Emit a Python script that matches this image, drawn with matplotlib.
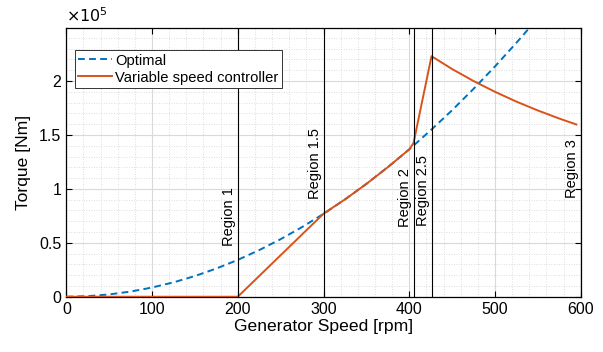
import matplotlib
matplotlib.use("Agg")
import matplotlib.pyplot as plt
from matplotlib.ticker import MultipleLocator, FuncFormatter

plt.rcParams['font.family'] = ['Liberation Sans', 'DejaVu Sans']

# optimal torque curve [rpm, Nm]
opt_speed = [0, 25, 50, 75, 100, 125, 150, 175, 200, 225, 250, 275, 300,
             325, 350, 375, 400, 425, 450, 475, 500, 525, 550]
opt_torque = [0, 530, 2140, 4800, 8540, 13340, 19200, 26150, 34160, 43230,
              53380, 64580, 76860, 90200, 104600, 120100, 136600, 154300,
              172900, 192700, 213500, 235400, 258300]

# variable speed controller
ctl_speed = [0, 200, 300, 325, 350, 375, 400, 405, 426, 450, 475, 500, 525,
             550, 575, 595]
ctl_torque = [0, 0, 77000, 90200, 104600, 120100, 136600, 142500, 223000,
              211100, 200000, 190000, 180900, 172700, 165200, 159700]

# region boundaries and label heights
region_names = ['Region 1', 'Region 1.5', 'Region 2', 'Region 2.5', 'Region 3']
region_speed = [200, 300, 405.5, 426, 600]
region_label_y = [47000, 91000, 65000, 65500, 91500]

blue = (0, 0.447, 0.741)
orange = (0.85, 0.325, 0.098)

fig = plt.figure(figsize=(6.03, 3.52), dpi=100)
ax = fig.add_axes([0.110, 0.157, 0.853, 0.763])

ax.plot(opt_speed, opt_torque, color=blue, lw=1.4, dashes=(3.5, 2.2), label='Optimal', zorder=3)
ax.plot(ctl_speed, ctl_torque, color=orange, lw=1.4, label='Variable speed controller', zorder=3)

for name, xs, ys in zip(region_names, region_speed, region_label_y):
    ax.axvline(xs, color='black', lw=0.8, zorder=4)
    ax.text(xs - 2, ys, name, rotation=90, ha='right', va='bottom', fontsize=10.5)

ax.set_xlim(0, 600)
ax.set_ylim(0, 249000)
ax.xaxis.set_major_locator(MultipleLocator(100))
ax.xaxis.set_minor_locator(MultipleLocator(20))
ax.yaxis.set_major_locator(MultipleLocator(50000))
ax.yaxis.set_minor_locator(MultipleLocator(10000))
ax.yaxis.set_major_formatter(FuncFormatter(lambda v, p: f"{v / 1e5:g}"))

ax.grid(True, which='major', color='#d9d9d9', lw=0.8, zorder=0)
ax.grid(True, which='minor', color='#d4d4d4', lw=0.6, linestyle=(0, (1, 2)), zorder=0)
ax.set_axisbelow(True)

ax.tick_params(which='both', direction='in', top=True, right=True, labelsize=11.5)
ax.tick_params(which='major', length=4, width=0.8)
ax.tick_params(which='minor', length=0)
for s in ax.spines.values():
    s.set_linewidth(0.9)

ax.set_xlabel('Generator Speed [rpm]', fontsize=12.6, labelpad=2)
ax.set_ylabel('Torque [Nm]', fontsize=12.6, labelpad=6)
ax.text(0, 1.012, r'$\times 10^5$', transform=ax.transAxes, ha='left', va='bottom', fontsize=11.5)

leg = ax.legend(loc='upper left', bbox_to_anchor=(0.016, 0.919), fontsize=10.6,
                handlelength=2.3, handletextpad=0.2, borderpad=0.25, labelspacing=0.2,
                borderaxespad=0, fancybox=False, framealpha=1, edgecolor='#333333')
leg.get_frame().set_linewidth(0.7)

fig.savefig('out.png', dpi=100)
